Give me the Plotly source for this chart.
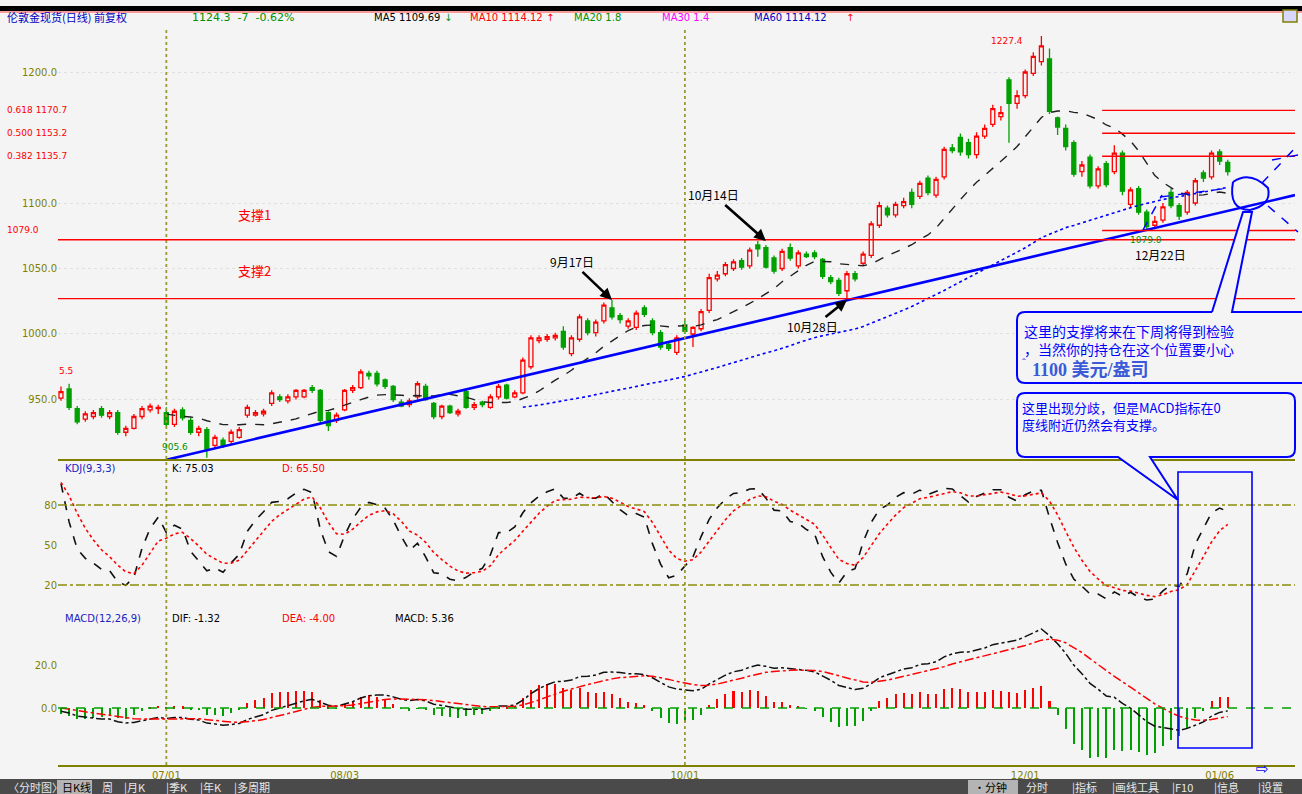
import plotly.graph_objects as go
import pandas as pd

W, H = 1302, 794
CJK = "Noto Sans CJK SC"
OLIVE = "#808000"
BG = "#f4f4f4"
UPC = "#ff0000"
DNC = "#00a000"
BLUE = "#0000ff"

# ---------------- data ----------------
START, END = "2009-06-12", "2010-01-07"
HOLIDAYS = ["2009-07-03", "2009-09-07", "2009-11-26", "2009-12-25", "2010-01-01"]

OPEN = [951, 958, 943, 935, 937, 943, 937, 940, 925, 928,
        937, 942, 943, 940, 931, 942, 934, 925, 927, 915,
        919, 918, 921, 938, 938, 939, 947, 952, 949, 952,
        952, 959, 957, 940, 934, 942, 957, 959, 970, 970,
        965, 960, 948, 946, 952, 960, 947, 937, 945, 939,
        956, 944, 948, 944, 952, 961, 952, 955, 975, 995,
        996, 997, 1002, 985, 996, 1010, 1001, 1010, 1020, 1014,
        1006, 1005, 1020, 1010, 1001, 992, 986, 1007, 1000, 1004,
        1018, 1042, 1046, 1050, 1056, 1052, 1068, 1066, 1058, 1050,
        1066, 1052, 1061, 1062, 1057, 1043, 1041, 1033, 1046, 1054,
        1060, 1083, 1096, 1091, 1098, 1108, 1105, 1119, 1106, 1120,
        1142, 1150, 1146, 1137, 1151, 1160, 1166, 1194, 1176, 1182,
        1199, 1208, 1210, 1165, 1157, 1146, 1124, 1135, 1113, 1130,
        1124, 1138, 1099, 1111, 1093, 1083, 1087, 1108, 1098, 1093,
        1100, 1123, 1120, 1139, 1131]
HIGH = [960, 962, 945, 941, 942, 945, 942, 942, 930, 939,
        945, 947, 946, 944, 943, 944, 936, 930, 929, 923,
        921, 927, 929, 946, 942, 943, 957, 954, 954, 958,
        958, 961, 958, 941, 940, 958, 961, 973, 972, 972,
        966, 961, 950, 951, 964, 962, 948, 946, 946, 943,
        958, 948, 949, 954, 962, 962, 957, 982, 999, 999,
        1000, 1001, 1006, 999, 1015, 1012, 1011, 1024, 1026, 1016,
        1012, 1018, 1022, 1012, 1003, 994, 999, 1010, 1006, 1019,
        1046, 1048, 1055, 1057, 1058, 1066, 1071, 1068, 1060, 1065,
        1069, 1064, 1063, 1064, 1058, 1045, 1043, 1048, 1048, 1063,
        1086, 1101, 1098, 1101, 1104, 1111, 1117, 1121, 1120, 1143,
        1145, 1153, 1149, 1154, 1160, 1175, 1174, 1196, 1186, 1202,
        1215, 1227.4, 1218, 1166, 1160, 1148, 1132, 1137, 1128, 1132,
        1144, 1140, 1112, 1113, 1095, 1090, 1100, 1111, 1100, 1110,
        1119, 1125, 1140, 1141, 1133]
LOW = [949, 942, 931, 933, 935, 936, 935, 923, 922, 927,
       935, 940, 939, 929, 929, 934, 923, 922, 905.6, 913,
       913, 916, 920, 936, 937, 937, 945, 948, 947, 950,
       951, 955, 932, 926, 932, 941, 955, 958, 965, 960,
       958, 948, 944, 944, 950, 949, 935, 935, 939, 937,
       943, 942, 944, 943, 950, 950, 951, 954, 973, 993,
       994, 995, 988, 983, 994, 999, 998, 1008, 1011, 1008,
       1004, 1003, 1013, 999, 988, 987, 984, 1000, 990, 1002,
       1016, 1040, 1044, 1048, 1049, 1050, 1059, 1050, 1046, 1048,
       1056, 1050, 1058, 1057, 1042, 1038, 1029, 1026, 1040, 1052,
       1058, 1081, 1089, 1089, 1096, 1096, 1103, 1106, 1104, 1118,
       1138, 1136, 1134, 1134, 1149, 1158, 1163, 1146, 1172, 1180,
       1197, 1205, 1168, 1152, 1140, 1120, 1120, 1111, 1111, 1112,
       1122, 1106, 1097, 1091, 1079, 1081, 1085, 1096, 1087, 1091,
       1098, 1116, 1118, 1129, 1121]
CLOSE = [956, 944, 933, 939, 940, 938, 940, 925, 928, 937,
         943, 945, 944, 931, 941, 936, 925, 928, 912, 921,
         915, 925, 927, 944, 940, 941, 955, 950, 952, 957,
         957, 957, 934, 930, 938, 957, 959, 971, 968, 962,
         960, 950, 945, 949, 962, 950, 937, 945, 940, 941,
         944, 946, 946, 952, 960, 951, 955, 980, 997, 997,
         998, 999, 990, 997, 1013, 1001, 1009, 1022, 1013, 1011,
         1010, 1016, 1015, 1001, 990, 989, 997, 1002, 1005, 1017,
         1043, 1045, 1053, 1055, 1051, 1064, 1065, 1051, 1048, 1063,
         1058, 1062, 1059, 1059, 1044, 1040, 1031, 1046, 1042, 1061,
         1084, 1098, 1091, 1099, 1101, 1099, 1115, 1108, 1118, 1141,
         1140, 1139, 1137, 1151, 1157, 1172, 1169, 1176, 1182, 1200,
         1212, 1220, 1170, 1158, 1143, 1122, 1129, 1113, 1126, 1114,
         1138, 1109, 1110, 1093, 1082, 1086, 1097, 1098, 1090, 1108,
         1117, 1119, 1138, 1132, 1124]

TICK_DATES = ["2009-07-01", "2009-08-03", "2009-10-01", "2009-12-01", "2010-01-06"]
TICK_TEXT = ["07/01", "08/03", "10/01", "12/01", "01/06"]
QUARTER_DATES = ["2009-07-01", "2009-10-01"]

Y_TICKS = [950, 1000, 1050, 1100, 1200]
SUPPORT_NAMES = ["支撑1", "支撑2"]
SUPPORT_PRICES = [1072.0, 1027.0]
FIB_LOW, FIB_HIGH = 1079.0, 1227.4
FIB_RATIOS = [0.382, 0.5, 0.618]
FIB_START_DATE = "2009-12-14"
TREND_DATES = ["2009-07-01", "2010-01-20"]
TREND_PRICES = [904.0, 1106.0]

HEADER_QUOTE = "1124.3  -7  -0.62%"
HEADER_MA = [("MA5 1109.69", "#000000"), ("↓", "#009000"), ("MA10 1114.12 ↑", UPC),
             ("MA20 1.8", "#009000"), ("MA30 1.4", "#ff00ff"), ("MA60 1114.12", "#0000c0"), ("↑", UPC)]

MA_SHORT_N, MA_LONG_N = 14, 58
K0, D0 = 96.0, 97.0
EMA12_0, EMA26_0, DEA0 = 955.0, 956.5, 0.0

# ---------------- derived ----------------
days = pd.bdate_range(START, END)
days = days[~days.isin(pd.to_datetime(HOLIDAYS))]
N = len(days)
idx = list(range(N))
pos = {d.strftime("%Y-%m-%d"): i for i, d in enumerate(days)}
closes = pd.Series(CLOSE, dtype=float)

ma_short = closes.rolling(MA_SHORT_N).mean()
ma_long = closes.rolling(MA_LONG_N).mean()

K, D = [], []
k, d = K0, D0
for i in range(N):
    lo = min(LOW[max(0, i - 8):i + 1]); hi = max(HIGH[max(0, i - 8):i + 1])
    rsv = (CLOSE[i] - lo) / (hi - lo) * 100 if hi > lo else 50
    if i > 0:
        k = k * 2 / 3 + rsv / 3
        d = d * 2 / 3 + k / 3
    K.append(k); D.append(d)

DIF, DEA, HIST = [], [], []
e12, e26, dea = EMA12_0, EMA26_0, DEA0
for i in range(N):
    if i > 0:
        e12 = e12 * 11 / 13 + CLOSE[i] * 2 / 13
        e26 = e26 * 25 / 27 + CLOSE[i] * 2 / 27
    dif = e12 - e26
    if i > 0:
        dea = dea * 8 / 10 + dif * 2 / 10
    DIF.append(dif); DEA.append(dea); HIST.append(2 * (dif - dea))

# ---------------- figure ----------------
XR = [-0.37, 152.3]
fig = go.Figure()
fig.add_trace(go.Candlestick(
    x=idx, open=OPEN, high=HIGH, low=LOW, close=CLOSE,
    increasing=dict(line=dict(color=UPC, width=1.3), fillcolor=BG),
    decreasing=dict(line=dict(color=DNC, width=1.3), fillcolor=DNC),
    whiskerwidth=0, xaxis="x", yaxis="y", showlegend=False))
fig.add_trace(go.Scatter(x=idx, y=ma_short, mode="lines", line=dict(color="#202020", width=1.4, dash="dash"),
                         xaxis="x", yaxis="y", showlegend=False))
fig.add_trace(go.Scatter(x=idx, y=ma_long, mode="lines", line=dict(color=BLUE, width=1.6, dash="dot"),
                         xaxis="x", yaxis="y", showlegend=False))
fig.add_trace(go.Scatter(x=[pos[TREND_DATES[0]], XR[1]], y=TREND_PRICES, mode="lines",
                         line=dict(color=BLUE, width=2.6), xaxis="x", yaxis="y", showlegend=False))
# KDJ
fig.add_trace(go.Scatter(x=idx, y=K, mode="lines", line=dict(color="#101010", width=1.6, dash="dash"),
                         xaxis="x2", yaxis="y2", showlegend=False))
fig.add_trace(go.Scatter(x=idx, y=D, mode="lines", line=dict(color=UPC, width=1.6, dash="dot"),
                         xaxis="x2", yaxis="y2", showlegend=False))
# MACD
fig.add_trace(go.Bar(x=idx, y=HIST, width=0.25,
                     marker=dict(color=[UPC if h >= 0 else DNC for h in HIST], line=dict(width=0)),
                     xaxis="x3", yaxis="y3", showlegend=False))
fig.add_trace(go.Scatter(x=idx, y=DIF, mode="lines", line=dict(color="#101010", width=1.5, dash="dashdot"),
                         xaxis="x3", yaxis="y3", showlegend=False))
fig.add_trace(go.Scatter(x=idx, y=DEA, mode="lines", line=dict(color=UPC, width=1.5, dash="dashdot"),
                         xaxis="x3", yaxis="y3", showlegend=False))

shapes, ann = [], []

def py(y):
    return 1 - y / H

def pline(x0, y0, x1, y1, color, width=1.0, dash="solid"):
    shapes.append(dict(type="line", xref="paper", yref="paper", x0=x0 / W, y0=py(y0), x1=x1 / W, y1=py(y1),
                       line=dict(color=color, width=width, dash=dash)))

def prect(x0, y0, x1, y1, fill, lc=None, lw=0):
    shapes.append(dict(type="rect", xref="paper", yref="paper", x0=x0 / W, y0=py(y0), x1=x1 / W, y1=py(y1),
                       fillcolor=fill, line=dict(color=lc or fill, width=lw), layer="above"))

def ppath(pts, color, width=1.5, dash="solid", fill=None):
    dstr = ""
    for cmd, *coords in pts:
        dstr += " " + cmd + " ".join(f"{x / W:.5f},{py(y):.5f}" for x, y in coords)
    shapes.append(dict(type="path", xref="paper", yref="paper", path=dstr.strip(),
                       line=dict(color=color, width=width, dash=dash),
                       fillcolor=fill if fill else "rgba(0,0,0,0)", layer="above"))

def txt(x, y, s, color, size=11, anchor="left", family=CJK, yanchor="middle", align="left"):
    ann.append(dict(xref="paper", yref="paper", x=x / W, y=py(y), text=s, showarrow=False, align=align,
                    xanchor=anchor, yanchor=yanchor, font=dict(color=color, size=size, family=family)))

# top bars
prect(0, 6, W, 11, "#000000")
pline(0, 12, W, 12, "#ff4040", 1)
prect(1283, 10, 1297, 22, "#d8d8ff", OLIVE, 1.5)
# bottom toolbar
prect(0, 779, W, 794, "#4a4a4a")
prect(57, 780, 92, 794, "#b4b4b4")
prect(968, 780, 1018, 794, "#b4b4b4")

# panel separator / quarter lines
pline(58, 460, 1295, 460, OLIVE, 2)
for qd in QUARTER_DATES:
    shapes.append(dict(type="line", xref="x", yref="paper", x0=pos[qd], x1=pos[qd], y0=py(765), y1=py(28),
                       line=dict(color="#9a9a30", width=1.8, dash="dot")))
# support lines
for p in SUPPORT_PRICES:
    shapes.append(dict(type="line", xref="x domain", yref="y", x0=0, x1=1, y0=p, y1=p,
                       line=dict(color=UPC, width=1.4)))
# fibonacci lines
fib_prices = [FIB_LOW] + [FIB_LOW + r * (FIB_HIGH - FIB_LOW) for r in FIB_RATIOS]
for p in fib_prices:
    shapes.append(dict(type="line", xref="x", yref="y", x0=pos[FIB_START_DATE] + 0.5, x1=XR[1], y0=p, y1=p,
                       line=dict(color=UPC, width=1.4)))
# KDJ reference lines
for lv in (80, 20):
    shapes.append(dict(type="line", xref="x2 domain", yref="y2", x0=0, x1=1, y0=lv, y1=lv,
                       line=dict(color="#8c8c10", width=1.5, dash="dashdot")))
shapes.append(dict(type="line", xref="x3 domain", yref="y3", x0=0, x1=1, y0=0, y1=0,
                   line=dict(color=DNC, width=1.5, dash="dash")))

# blue drawings
ppath([("M", (1233, 182)), ("Q", (1250, 170), (1268, 188)), ("Q", (1272, 205), (1250, 210)),
       ("Q", (1228, 210), (1233, 182))], BLUE, 2)
ppath([("M", (1143, 230)), ("L", (1162, 195), (1192, 213), (1218, 158), (1242, 186))], BLUE, 1.5, "dash")
ppath([("M", (1160, 197)), ("L", (1230, 188))], BLUE, 1.3, "dash")
ppath([("M", (1262, 183)), ("L", (1298, 145))], BLUE, 1.5, "dash")
ppath([("M", (1268, 206)), ("L", (1298, 232))], BLUE, 1.5, "dash")
ppath([("M", (1272, 160)), ("L", (1298, 155))], BLUE, 1.3, "dash")
prect(1178, 472, 1252, 748, "rgba(0,0,0,0)", BLUE, 1.6)
# callout 1 (with pointer to circle)
ppath([("M", (1212, 312)), ("L", (1025, 312)), ("Q", (1017, 312), (1017, 320)), ("L", (1017, 375)),
       ("Q", (1017, 383), (1025, 383)), ("L", (1305, 383)), ("L", (1305, 312)), ("L", (1232, 312)),
       ("L", (1252, 212)), ("L", (1243, 212)), ("L", (1212, 312))], BLUE, 2, fill=BG)
# callout 2 (with pointer to MACD box)
ppath([("M", (1025, 393)), ("L", (1287, 393)), ("Q", (1295, 393), (1295, 401)), ("L", (1295, 449)),
       ("Q", (1295, 457), (1287, 457)), ("L", (1150, 457)), ("L", (1178, 500)), ("L", (1118, 457)),
       ("L", (1025, 457)), ("Q", (1017, 457), (1017, 449)), ("L", (1017, 401)), ("Q", (1017, 393), (1025, 393))],
      BLUE, 2, fill=BG)

# ---------------- texts ----------------
txt(5, 17, "伦敦金现货(日线) 前复权", "#0000c0", 11)
txt(190, 17, HEADER_QUOTE, "#009000", 11, family="DejaVu Sans")
for (s, c), x in zip(HEADER_MA, [372, 442, 468, 572, 660, 752, 844]):
    txt(x, 17, s, c, 10, family="DejaVu Sans")

fib_labels = [f"{FIB_LOW:.1f}"] + [f"{r:.3f} {FIB_LOW + r * (FIB_HIGH - FIB_LOW):.1f}" for r in FIB_RATIOS]
for s, yy in zip(fib_labels, [230, 156, 133, 110]):
    txt(5, yy, s, UPC, 9, family="DejaVu Sans")
txt(1025, 41, f"{FIB_HIGH:.1f}", UPC, 9, anchor="right", family="DejaVu Sans")
txt(75, 371, "5.5", UPC, 9, anchor="right", family="DejaVu Sans")
txt(160, 447, f"{min(LOW):.1f}", "#009000", 9, family="DejaVu Sans")
txt(1146, 240, f"{FIB_LOW:.1f}", "#009000", 9, anchor="center", family="DejaVu Sans")

for name, yy in zip(SUPPORT_NAMES, [215, 270]):
    txt(236, yy, name, UPC, 13)

for label, d, price, ax, ay in [("9月17日", "2009-09-17", 1026, -40, -38),
                                ("10月14日", "2009-10-14", 1071, -52, -46),
                                ("10月28日", "2009-10-28", 1026, -34, 27)]:
    ann.append(dict(xref="x", yref="y", x=pos[d] + 1, y=price, text=label, showarrow=True,
                    arrowhead=2, arrowsize=0.9, arrowwidth=2.6, arrowcolor="#000000", ax=ax, ay=ay,
                    font=dict(color="#000000", size=12, family=CJK)))
txt(1160, 254, "12月22日", "#000000", 12, anchor="center")

txt(1022, 319, "这里的支撑将来在下周将得到检验<br>，当然你的持仓在这个位置要小心", BLUE, 14, yanchor="top")
txt(1020, 361, "ˆ", BLUE, 11)
txt(1030, 370, "<b>1100 美元/盎司</b>", "#3a5ad8", 18, family="Liberation Serif, Noto Sans CJK SC")
txt(1020, 396, "这里出现分歧，但是MACD指标在0<br>度线附近仍然会有支撑。", BLUE, 13, yanchor="top")

txt(63, 468, "KDJ(9,3,3)", "#2020c0", 10, family="DejaVu Sans")
txt(170, 468, f"K: {K[-1]:.2f}", "#000000", 10, family="DejaVu Sans")
txt(280, 468, f"D: {D[-1]:.2f}", UPC, 10, family="DejaVu Sans")
txt(63, 618, "MACD(12,26,9)", "#2020c0", 10, family="DejaVu Sans")
txt(170, 618, f"DIF: {DIF[-1]:.2f}", "#000000", 10, family="DejaVu Sans")
txt(280, 618, f"DEA: {DEA[-1]:.2f}", UPC, 10, family="DejaVu Sans")
txt(393, 618, f"MACD: {HIST[-1]:.2f}", "#000000", 10, family="DejaVu Sans")

# toolbar labels
for x, s, c in [(6, "〈分时图〉", "#e8e8e8"), (60, "日K线", "#000000"), (100, "周", "#e8e8e8"),
                (122, "|月K", "#e8e8e8"), (164, "|季K", "#e8e8e8"), (198, "|年K", "#e8e8e8"),
                (232, "|多周期", "#e8e8e8"), (972, "·分钟", "#000000"), (1024, "分时", "#e8e8e8"),
                (1070, "|指标", "#e8e8e8"), (1110, "|画线工具", "#e8e8e8"), (1170, "|F10", "#e8e8e8"),
                (1212, "|信息", "#e8e8e8"), (1256, "|设置", "#e8e8e8")]:
    txt(x, 787, s, c, 11)
txt(1262, 769, "⇨", BLUE, 15, anchor="center", family="DejaVu Sans")

dom_x = [58 / W, 1295 / W]
axis_common = dict(range=XR, showgrid=False, zeroline=False, showticklabels=False, fixedrange=True)
tickfont = dict(color=OLIVE, size=10, family="DejaVu Sans")
fig.update_layout(
    width=W, height=H, autosize=False, margin=dict(l=0, r=0, t=0, b=0),
    paper_bgcolor=BG, plot_bgcolor=BG, showlegend=False, bargap=0,
    xaxis=dict(domain=dom_x, anchor="y", rangeslider=dict(visible=False), **axis_common),
    xaxis2=dict(domain=dom_x, anchor="y2", matches="x", **axis_common),
    xaxis3=dict(domain=dom_x, anchor="y3", matches="x", range=XR, showgrid=False, zeroline=False,
                tickvals=[pos[t] for t in TICK_DATES], ticktext=TICK_TEXT, tickfont=tickfont, ticks="",
                showline=True, linecolor=OLIVE, linewidth=2),
    yaxis=dict(domain=[py(460), py(28)], range=[903.8, 1233.6], tickvals=Y_TICKS,
               ticktext=[f"{v:.1f}" for v in Y_TICKS], tickfont=tickfont, ticks="",
               showgrid=True, gridcolor="#e0e0e0", griddash="dot", zeroline=False),
    yaxis2=dict(domain=[py(607), py(460)], range=[3.5, 113.75], tickvals=[20, 50, 80],
                tickfont=tickfont, ticks="", showgrid=False, zeroline=False),
    yaxis3=dict(domain=[py(765), py(607)], range=[-26.5, 47], tickvals=[0, 20], ticktext=["0.0", "20.0"],
                tickfont=tickfont, ticks="", showgrid=False, zeroline=False),
    shapes=shapes, annotations=ann,
)
fig.write_html("out.html", config={"displayModeBar": False},
               post_script="document.body.style.margin='0';")
